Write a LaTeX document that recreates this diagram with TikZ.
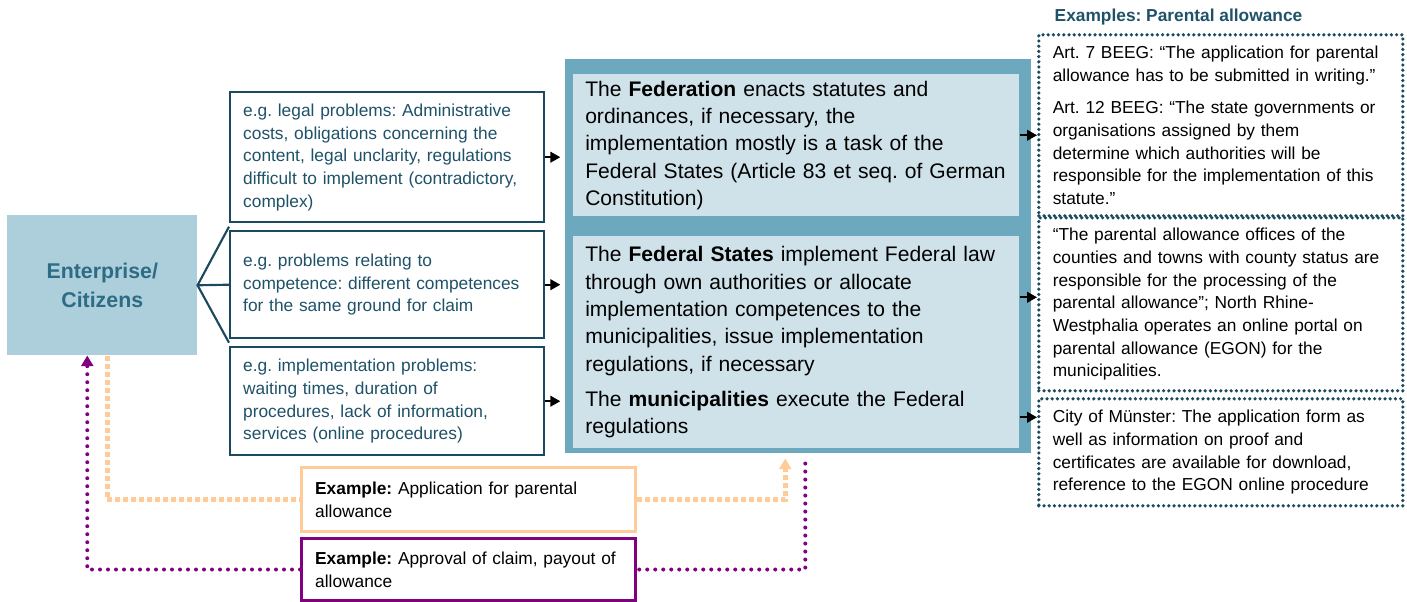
\documentclass[tikz,border=0pt]{standalone}
\usepackage{fontspec}
\setmainfont{Liberation Sans}
\usetikzlibrary{arrows.meta,calc,positioning}
\frenchspacing
\hyphenpenalty=10000
\exhyphenpenalty=10000

\definecolor{tealdark}{HTML}{1B4A5E}
\definecolor{tealtext}{HTML}{1F5269}
\definecolor{entfill}{HTML}{ADCFDB}
\definecolor{enttext}{HTML}{2D6C84}
\definecolor{frameblue}{HTML}{6CA8BE}
\definecolor{innerblue}{HTML}{CFE2E9}
\definecolor{peach}{HTML}{FFCC99}
\definecolor{purp}{HTML}{800080}

\tikzset{
  smalltext/.style={font=\fontsize{13}{17}\selectfont},
  entbox/.style={fill=entfill, text=enttext, anchor=north west, align=center,
    minimum width=142.5pt, minimum height=105pt,
    font=\fontsize{16}{21.5}\selectfont\bfseries},
  probbox/.style={smalltext, draw=tealdark, line width=1.8pt, fill=white, text=tealtext,
    anchor=north west, align=left, text width=216pt, inner xsep=9.75pt, inner ysep=1pt},
  framebox/.style={fill=frameblue, anchor=north west, minimum width=349.5pt,
    minimum height=295.5pt, inner sep=0pt},
  levelbox/.style={fill=innerblue, anchor=north west, align=left, text width=316.5pt,
    inner xsep=9pt, inner ysep=1pt, font=\fontsize{15.8}{20.5}\selectfont},
  extitle/.style={anchor=west, text=tealtext, font=\fontsize{13}{17}\selectfont\bfseries},
  exbox/.style={smalltext, draw=tealdark, line width=2.7pt, line cap=round,
    dash pattern=on 0pt off 3.9pt, anchor=north west, align=left,
    text width=252pt, inner xsep=10.5pt, inner ysep=1pt},
  applbox/.style={smalltext, draw=peach, line width=2.25pt, anchor=north west, align=left,
    text width=230pt, inner xsep=10.25pt, minimum height=48pt},
  paybox/.style={applbox, draw=purp, minimum height=46.5pt},
  fork/.style={draw=tealdark, line width=1.6pt},
  arr/.style={line width=1.5pt, -{Triangle[length=7.5pt,width=8pt]}},
  appline/.style={draw=peach, line width=3.5pt, dash pattern=on 3.75pt off 2.25pt},
  payline/.style={draw=purp, line width=3pt, line cap=round, dash pattern=on 0pt off 6pt},
}

\begin{document}
\begin{tikzpicture}[x=0.75pt,y=-0.75pt]
  \useasboundingbox (0,0) rectangle (1407,601);

  % who is concerned, and the problems they meet
  \node[entbox] (ent) at (7,215) {Enterprise/\\Citizens};
  \node[probbox, minimum height=97.5pt] (p1) at (229,91) {e.g. legal problems: Administrative\\
    costs, obligations concerning the\\ content, legal unclarity, regulations\\
    difficult to implement (contradictory,\\ complex)};
  \node[probbox, minimum height=80.25pt] (p2) at (229,230) {e.g. problems relating to\\
    competence: different competences\\ for the same ground for claim};
  \node[probbox, minimum height=81pt] (p3) at (229,346) {e.g. implementation problems:\\
    waiting times, duration of\\ procedures, lack of information,\\ services (online procedures)};

  % levels of government
  \node[framebox] (gov) at (565,59) {};
  \node[levelbox, minimum height=106.5pt] (fed) at (573,74) {The \textbf{Federation} enacts statutes and\\
    ordinances, if necessary, the\\ implementation mostly is a task of the\\
    Federal States (Article 83 et seq. of German\\ Constitution)};
  \node[levelbox, minimum height=159pt] (states) at (573,236) {The \textbf{Federal States} implement Federal law\\
    through own authorities or allocate\\ implementation competences to the\\
    municipalities, issue implementation\\ regulations, if necessary\\[6pt]
    The \textbf{municipalities} execute the Federal\\ regulations};

  % examples
  \node[extitle] (extitle) at (1050,17) {Examples: Parental allowance};
  \node[exbox, minimum height=135.75pt] (ex1) at (1037,33) {Art. 7 BEEG: “The application for parental\\
    allowance has to be submitted in writing.”\\[7.5pt]
    Art. 12 BEEG: “The state governments or\\ organisations assigned by them\\
    determine which authorities will be\\ responsible for the implementation of this\\ statute.”};
  \node[exbox, minimum height=129.75pt] (ex2) at (1037,216) {“The parental allowance offices of the\\
    counties and towns with county status are\\ responsible for the processing of the\\
    parental allowance”; North Rhine-\\ Westphalia operates an online portal on\\
    parental allowance (EGON) for the\\ municipalities.};
  \node[exbox, minimum height=80.25pt] (ex3) at (1037,397) {City of Münster: The application form as\\
    well as information on proof and\\ certificates are available for download,\\
    reference to the EGON online procedure};

  % the two ways round
  \node[applbox] (appl) at (300,466) {\textbf{Example:} Application for parental\\ allowance};
  \node[paybox] (pay) at (300,537) {\textbf{Example:} Approval of claim, payout of\\ allowance};

  \draw[fork, line join=miter] ($(p1.south west)!0.5!(p2.north west)$) -- (ent.east)
    -- ($(p2.south west)!0.5!(p3.north west)$);
  \draw[fork] (ent.east) -- (p2.west);

  \draw[arr, shorten >=3.5pt] (p1.east) -- (p1.east -| gov.west);
  \draw[arr, shorten >=3.5pt] (p2.east) -- (p2.east -| gov.west);
  \draw[arr, shorten >=3.5pt] (p3.east) -- (p3.east -| gov.west);

  \draw[arr] ([yshift=7.5pt]fed.east) -- ([yshift=7.5pt]fed.east -| ex1.west);
  \draw[arr] ([yshift=33.75pt]states.east) -- ([yshift=33.75pt]states.east -| ex2.west);
  \draw[arr] ([yshift=-56.25pt]states.east) -- ([yshift=-56.25pt]states.east -| ex3.west);

  \draw[appline] ([xshift=3.75pt]ent.south) |- (appl.west);
  \draw[appline, shorten >=3.75pt, -{Triangle[length=8pt,width=9pt,fill=peach]}]
    (appl.east) -| ([xshift=-9.75pt]gov.south);
  \draw[payline, shorten <=7.5pt] ([xshift=5.25pt]gov.south) |- (pay.east);
  \draw[payline, -{Triangle[length=8pt,width=9pt,fill=purp]}]
    (pay.west) -| ([xshift=-11.25pt]ent.south);
\end{tikzpicture}
\end{document}
